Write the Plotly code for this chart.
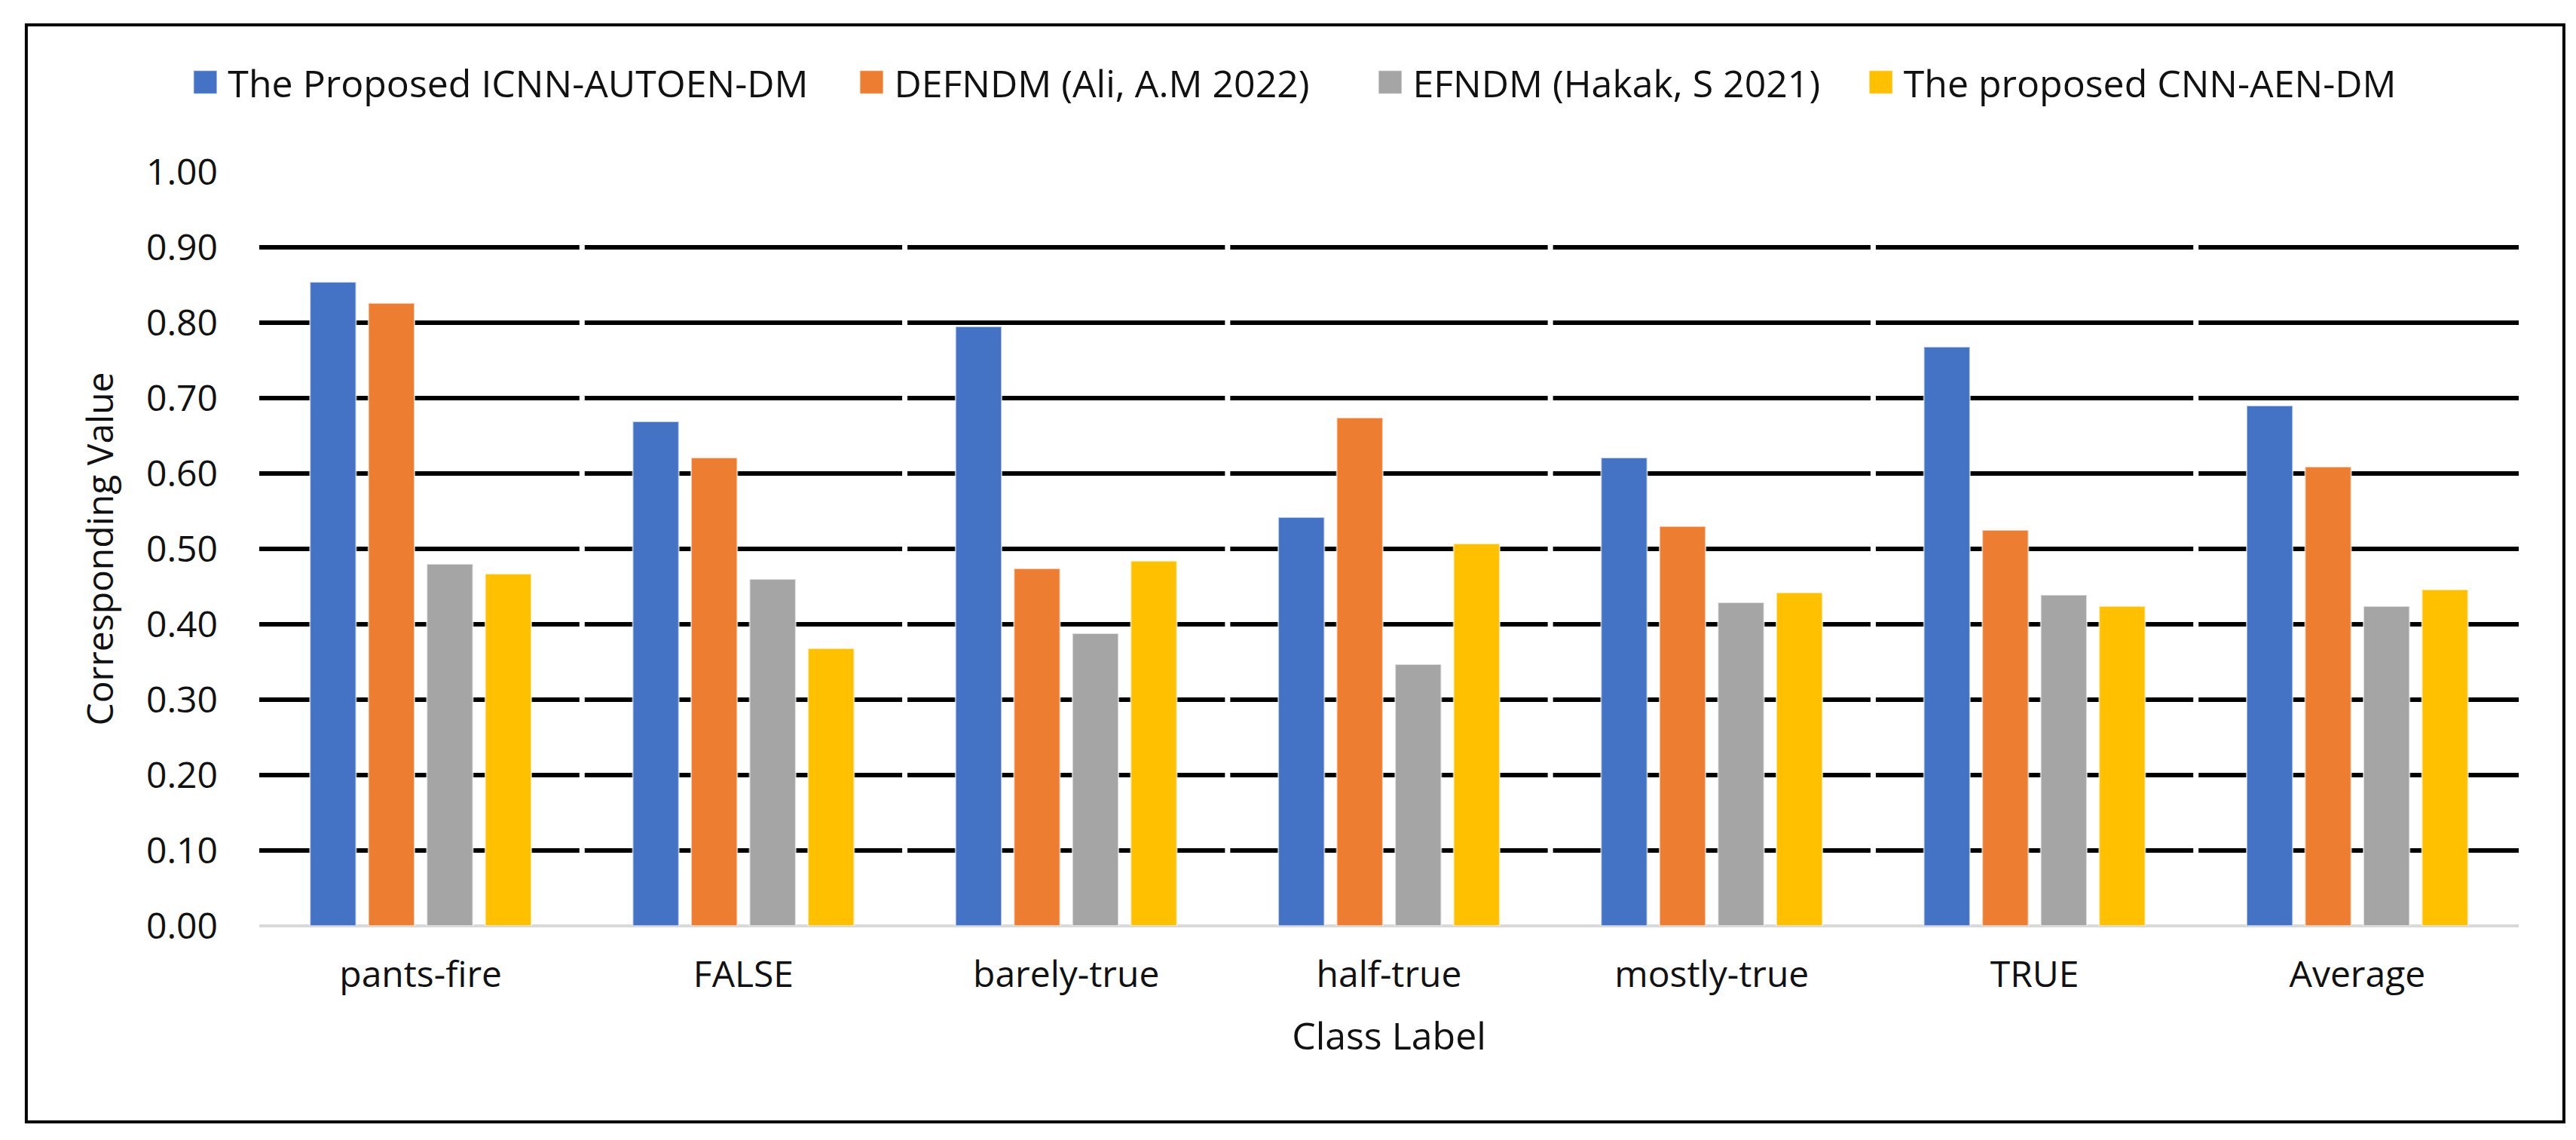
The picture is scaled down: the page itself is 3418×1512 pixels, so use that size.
import plotly.graph_objects as go

categories = ["pants-fire", "FALSE", "barely-true", "half-true", "mostly-true", "TRUE", "Average"]
series_names = [
    "The Proposed ICNN-AUTOEN-DM",
    "DEFNDM (Ali, A.M 2022)",
    "EFNDM (Hakak, S 2021)",
    "The proposed CNN-AEN-DM",
]
icnn_autoen_dm = [0.854, 0.669, 0.795, 0.542, 0.621, 0.768, 0.690]
defndm = [0.826, 0.621, 0.474, 0.674, 0.530, 0.525, 0.609]
efndm = [0.480, 0.460, 0.388, 0.347, 0.429, 0.439, 0.424]
cnn_aen_dm = [0.467, 0.368, 0.484, 0.507, 0.442, 0.424, 0.446]
y_tick_values = [0.0, 0.1, 0.2, 0.3, 0.4, 0.5, 0.6, 0.7, 0.8, 0.9, 1.0]
colors = ["#4472C4", "#ED7D31", "#A5A5A5", "#FFC000"]

FONT = "Open Sans"
TXT = "#111111"
series_values = [icnn_autoen_dm, defndm, efndm, cnn_aen_dm]
legend_ids = ["legend", "legend2", "legend3", "legend4"]
legend_x = [-0.0339, 0.2610, 0.4905, 0.7077]

fig = go.Figure()
for name, vals, col, lid in zip(series_names, series_values, colors, legend_ids):
    fig.add_trace(go.Bar(
        x=categories, y=vals, name=name, legend=lid,
        marker=dict(color=col, line=dict(color="rgba(255,255,255,0.6)", width=2)),
    ))

shapes = []
# white breaks in the gridlines at category boundaries (they never touch a bar)
for i in range(len(categories) - 1):
    shapes.append(dict(type="line", xref="x", yref="paper", x0=i + 0.5, x1=i + 0.5,
                       y0=0.02, y1=0.97, line=dict(color="white", width=7), layer="above"))
# outer frame
shapes.append(dict(type="rect", xref="paper", yref="paper", x0=-0.1031, x1=1.0200,
                   y0=-0.260, y1=1.195, line=dict(color="black", width=4),
                   fillcolor="rgba(0,0,0,0)", layer="above"))

legend_common = dict(orientation="h", xanchor="left", y=1.119, yanchor="middle",
                     font=dict(family=FONT, size=50, color=TXT), itemwidth=50,
                     bgcolor="rgba(0,0,0,0)", borderwidth=0)
legend_layout = {lid: dict(x=lx, **legend_common) for lid, lx in zip(legend_ids, legend_x)}

fig.update_layout(
    width=3418, height=1512,
    margin=dict(l=336, r=84, t=220, b=292),
    paper_bgcolor="white", plot_bgcolor="white",
    font=dict(family=FONT, size=48, color=TXT),
    barmode="group", bargap=0.276, bargroupgap=0.21,
    showlegend=True,
    shapes=shapes,
    xaxis=dict(
        type="category", showgrid=False, showline=False, ticks="",
        ticklabelstandoff=32,
        tickfont=dict(family=FONT, size=48, color=TXT),
        title=dict(text="Class Label", font=dict(family=FONT, size=50, color=TXT), standoff=34),
    ),
    yaxis=dict(
        range=[0, 1.0], tickmode="array", tickvals=y_tick_values, tickformat=".2f",
        showgrid=True, gridcolor="black", gridwidth=6,
        zeroline=True, zerolinecolor="#D9D9D9", zerolinewidth=4,
        showline=False, ticks="", ticklabelstandoff=54,
        tickfont=dict(family=FONT, size=48, color=TXT),
        title=dict(text="Corresponding Value", font=dict(family=FONT, size=48, color=TXT), standoff=28),
    ),
    **legend_layout,
)

# enlarge the legend colour swatches (keep plotly's own centring transform)
post = """
document.querySelectorAll('.legendpoints path').forEach(function(p){
  var t = p.getAttribute('transform') || '';
  p.setAttribute('transform', t + ' scale(2.6)');
  p.style.strokeWidth = '0.6px';
});
"""

fig.write_html("out.html", post_script=post)
